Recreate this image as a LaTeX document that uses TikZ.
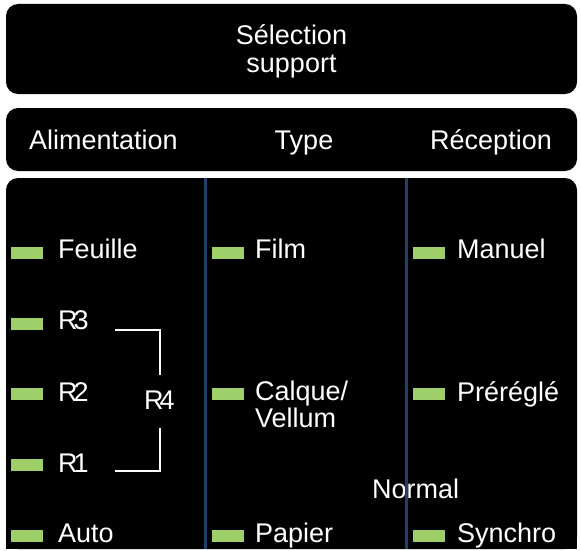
\documentclass[tikz,border=0pt]{standalone}
\usepackage{fontspec}
\setmainfont{Liberation Sans}
\definecolor{lampgreen}{HTML}{9FCF6A}
\definecolor{navyline}{HTML}{20406A}
\begin{document}
\begin{tikzpicture}[x=1pt,y=-1pt,
  panel/.style={fill=black, draw=none, rounded corners=12pt, inner sep=0pt},
  lamp/.style={fill=lampgreen, draw=none, minimum width=32pt, minimum height=12pt, inner sep=0pt},
  lbl/.style={text=white, font=\fontsize{27}{27}\selectfont, inner sep=0pt, anchor=base west},
  hdr/.style={text=white, font=\fontsize{27}{28}\selectfont, inner sep=0pt, align=center},
  divider/.style={draw=navyline, line width=3pt},
  bracket/.style={draw=white, line width=2pt}]
\useasboundingbox[fill=white] (0,0) rectangle (581,551);
% panels
\node[panel, minimum width=571pt, minimum height=90pt] (selbox) at (291.5,49) {};
\node[panel, minimum width=571pt, minimum height=63pt] (hdrbox) at (291.5,139.5) {};
\fill[black, rounded corners=12pt] (6,178) rectangle (577,549);
\fill[black] (6,520) rectangle (577,549);
% titles
\node[hdr] (sel) at (291.5,51) {Sélection\\support};
\node[hdr, anchor=base west] (alim) at (29,149) {Alimentation};
\node[hdr, anchor=base] (type) at (304,149) {Type};
\node[hdr, anchor=base east] (recep) at (552,149) {Réception};
% column 1
\node[lamp] (l11) at (27,252.5) {};
\node[lamp] (l12) at (27,323.5) {};
\node[lamp] (l13) at (27,394) {};
\node[lamp] (l14) at (27,465) {};
\node[lamp] (l15) at (27,536) {};
\node[lbl] (feuille) at (58,258) {Feuille};
\node[lbl] (r3) at (58,329) {R\kern-4pt 3};
\node[lbl] (r2) at (58,401) {R\kern-4pt 2};
\node[lbl] (r1) at (58,472) {R\kern-4pt 1};
\node[lbl] (auto) at (58,542) {Auto};
\node[lbl] (r4) at (144,409) {R\kern-4pt 4};
% bracket
\coordinate (b1) at (115,330);
\coordinate (b2) at (160,330);
\coordinate (b3) at (160,375);
\coordinate (b4) at (160,428);
\coordinate (b5) at (160,471);
\coordinate (b6) at (115,471);
\draw[bracket] (b1) -- (b2) -- (b3);
\draw[bracket] (b4) -- (b5) -- (b6);
% column 2
\node[lamp] (l21) at (227.5,252.5) {};
\node[lamp] (l22) at (227.5,394) {};
\node[lamp] (l23) at (227.5,536) {};
\node[lbl] (film) at (255,258) {Film};
\node[lbl, anchor=north west, align=left] (calque) at (255,381) {Calque/\\Vellum};
\node[lbl] (papier) at (255,542) {Papier};
% column 3
\node[lamp] (l31) at (428.5,252.5) {};
\node[lamp] (l32) at (428.5,394) {};
\node[lamp] (l33) at (428.5,536) {};
\node[lbl] (manuel) at (457,258) {Manuel};
\node[lbl] (preregle) at (457,401) {Préréglé};
\node[lbl] (synchro) at (457,542) {Synchro};
\node[lbl] (normal) at (372,498) {Normal};
% dividers
\draw[divider] (205,178) -- (205,549);
\draw[divider] (406,178) -- (406,549);
\end{tikzpicture}
\end{document}
